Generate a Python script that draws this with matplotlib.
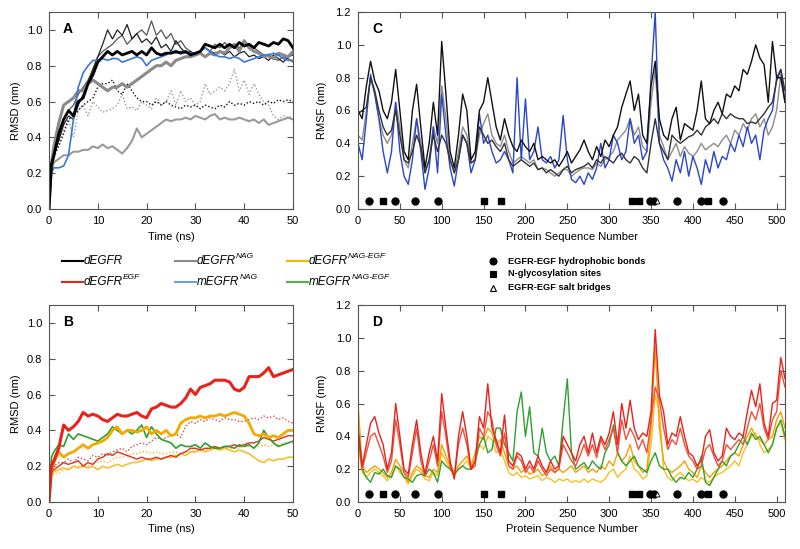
import numpy as np
import matplotlib
matplotlib.use("Agg")
import matplotlib.pyplot as plt
from matplotlib.ticker import FormatStrFormatter

plt.rcParams['font.family'] = ['Liberation Sans', 'DejaVu Sans']

# ---- RMSD time axis (ns) ----
time = [0, 0.5] + list(range(1, 51))

# panel A
a_degfr_1 = [0, 0.25,
             0.30, 0.42, 0.50, 0.55, 0.52, 0.60, 0.62, 0.70, 0.75, 0.82,
             0.85, 0.88, 0.86, 0.88, 0.86, 0.87, 0.88, 0.86, 0.88, 0.86,
             0.90, 0.87, 0.86, 0.87, 0.87, 0.88, 0.87, 0.88, 0.86, 0.87,
             0.88, 0.92, 0.91, 0.90, 0.92, 0.90, 0.92, 0.90, 0.93, 0.91,
             0.92, 0.90, 0.93, 0.92, 0.91, 0.93, 0.92, 0.95, 0.94, 0.90]
a_degfr_2 = [0, 0.22,
             0.30, 0.38, 0.47, 0.52, 0.50, 0.58, 0.64, 0.70, 0.78, 0.85,
             0.92, 1.00, 0.95, 1.00, 0.97, 1.03, 0.95, 0.98, 0.93, 0.95,
             0.92, 0.96, 0.90, 0.92, 0.88, 0.94, 0.90, 0.87, 0.88, 0.86,
             0.88, 0.90, 0.88, 0.87, 0.88, 0.86, 0.88, 0.85, 0.87, 0.88,
             0.85, 0.86, 0.84, 0.85, 0.83, 0.86, 0.84, 0.82, 0.85, 0.86]
a_degfr_3 = [0, 0.20,
             0.30, 0.35, 0.42, 0.50, 0.52, 0.55, 0.58, 0.60, 0.62, 0.68,
             0.70, 0.70, 0.72, 0.66, 0.64, 0.70, 0.66, 0.62, 0.60, 0.60,
             0.58, 0.60, 0.58, 0.60, 0.58, 0.57, 0.56, 0.58, 0.57, 0.58,
             0.56, 0.58, 0.57, 0.56, 0.58, 0.57, 0.60, 0.58, 0.59, 0.58,
             0.60, 0.59, 0.60, 0.58, 0.60, 0.59, 0.61, 0.60, 0.61, 0.60]
a_nag_1 = [0, 0.25,
           0.35, 0.48, 0.58, 0.60, 0.62, 0.66, 0.66, 0.70, 0.72, 0.70,
           0.68, 0.66, 0.68, 0.68, 0.70, 0.68, 0.70, 0.72, 0.74, 0.76,
           0.78, 0.80, 0.80, 0.82, 0.80, 0.83, 0.84, 0.85, 0.85, 0.86,
           0.87, 0.85, 0.87, 0.86, 0.88, 0.87, 0.90, 0.92, 0.88, 0.94,
           0.90, 0.88, 0.87, 0.85, 0.86, 0.84, 0.87, 0.86, 0.85, 0.88]
a_nag_2 = [0, 0.20,
           0.28, 0.40, 0.50, 0.55, 0.58, 0.64, 0.68, 0.72, 0.78, 0.85,
           0.88, 0.90, 0.92, 0.95, 0.97, 0.92, 0.95, 0.98, 1.00, 0.97,
           1.05, 0.97, 1.00, 0.95, 0.98, 0.92, 0.94, 0.90, 0.88, 0.86,
           0.88, 0.90, 0.88, 0.92, 0.90, 0.93, 0.90, 0.92, 0.90, 0.93,
           0.92, 0.90, 0.88, 0.86, 0.85, 0.84, 0.83, 0.85, 0.84, 0.82]
a_nag_3 = [0, 0.22,
           0.26, 0.28, 0.30, 0.30, 0.32, 0.32, 0.33, 0.33, 0.35, 0.34,
           0.36, 0.34, 0.35, 0.33, 0.31, 0.34, 0.38, 0.45, 0.40, 0.42,
           0.44, 0.46, 0.48, 0.50, 0.49, 0.50, 0.50, 0.51, 0.50, 0.52,
           0.51, 0.50, 0.52, 0.53, 0.50, 0.51, 0.50, 0.50, 0.51, 0.50,
           0.49, 0.50, 0.48, 0.50, 0.47, 0.48, 0.49, 0.50, 0.51, 0.50]
a_nag_dot = [0, 0.20,
             0.28, 0.36, 0.44, 0.50, 0.40, 0.55, 0.58, 0.52, 0.60, 0.57,
             0.54, 0.55, 0.56, 0.58, 0.64, 0.56, 0.57, 0.55, 0.60, 0.58,
             0.56, 0.62, 0.58, 0.60, 0.66, 0.58, 0.66, 0.60, 0.62, 0.58,
             0.60, 0.70, 0.64, 0.66, 0.68, 0.66, 0.70, 0.78, 0.66, 0.72,
             0.64, 0.70, 0.64, 0.60, 0.58, 0.52, 0.50, 0.52, 0.51, 0.52]
a_mnag = [0, 0.20,
          0.23, 0.23, 0.24, 0.30, 0.50, 0.68, 0.76, 0.80, 0.83, 0.83,
          0.84, 0.83, 0.84, 0.84, 0.82, 0.83, 0.84, 0.85, 0.84, 0.80,
          0.83, 0.84, 0.85, 0.86, 0.88, 0.87, 0.88, 0.87, 0.87, 0.86,
          0.88, 0.90, 0.88, 0.86, 0.85, 0.85, 0.84, 0.85, 0.84, 0.82,
          0.83, 0.84, 0.85, 0.86, 0.86, 0.87, 0.86, 0.84, 0.83, 0.83]

# panel B
b_egf_1 = [0, 0.20,
           0.23, 0.30, 0.43, 0.40, 0.42, 0.45, 0.50, 0.48, 0.49, 0.48,
           0.46, 0.45, 0.47, 0.49, 0.48, 0.48, 0.49, 0.50, 0.48, 0.47,
           0.52, 0.53, 0.55, 0.54, 0.53, 0.53, 0.55, 0.58, 0.63, 0.60,
           0.64, 0.65, 0.66, 0.68, 0.68, 0.68, 0.67, 0.63, 0.62, 0.64,
           0.70, 0.70, 0.70, 0.72, 0.75, 0.70, 0.71, 0.72, 0.73, 0.74]
b_egf_2 = [0, 0.17,
           0.18, 0.20, 0.22, 0.21, 0.22, 0.23, 0.20, 0.22, 0.21, 0.24,
           0.25, 0.27, 0.26, 0.28, 0.27, 0.26, 0.25, 0.24, 0.25, 0.24,
           0.24, 0.25, 0.24, 0.25, 0.26, 0.25, 0.27, 0.28, 0.30, 0.30,
           0.29, 0.30, 0.30, 0.31, 0.30, 0.31, 0.31, 0.32, 0.31, 0.32,
           0.33, 0.33, 0.34, 0.36, 0.35, 0.34, 0.35, 0.36, 0.37, 0.37]
b_egf_dot = [0, 0.17,
             0.20, 0.22, 0.22, 0.24, 0.22, 0.25, 0.24, 0.23, 0.26, 0.25,
             0.27, 0.26, 0.28, 0.29, 0.30, 0.28, 0.31, 0.32, 0.33, 0.32,
             0.34, 0.36, 0.35, 0.36, 0.37, 0.38, 0.36, 0.42, 0.45, 0.44,
             0.46, 0.45, 0.47, 0.46, 0.45, 0.47, 0.46, 0.46, 0.45, 0.45,
             0.46, 0.47, 0.46, 0.48, 0.47, 0.48, 0.46, 0.47, 0.45, 0.44]
b_nagegf_1 = [0, 0.18,
              0.22, 0.28, 0.25, 0.27, 0.28, 0.30, 0.32, 0.30, 0.32, 0.33,
              0.34, 0.36, 0.40, 0.42, 0.38, 0.40, 0.40, 0.39, 0.40, 0.42,
              0.38, 0.40, 0.38, 0.40, 0.37, 0.38, 0.44, 0.46, 0.47, 0.47,
              0.48, 0.47, 0.48, 0.48, 0.49, 0.48, 0.49, 0.50, 0.49, 0.48,
              0.44, 0.38, 0.37, 0.38, 0.36, 0.37, 0.36, 0.38, 0.40, 0.40]
b_nagegf_2 = [0, 0.15,
              0.17, 0.18, 0.19, 0.18, 0.20, 0.19, 0.20, 0.19, 0.20, 0.18,
              0.20, 0.19, 0.20, 0.21, 0.20, 0.21, 0.22, 0.22, 0.23, 0.24,
              0.23, 0.24, 0.24, 0.25, 0.25, 0.26, 0.27, 0.26, 0.28, 0.28,
              0.29, 0.28, 0.29, 0.30, 0.29, 0.30, 0.29, 0.28, 0.29, 0.28,
              0.27, 0.25, 0.23, 0.22, 0.24, 0.23, 0.24, 0.24, 0.25, 0.25]
b_nagegf_dot = [0, 0.14,
                0.16, 0.16, 0.18, 0.19, 0.20, 0.20, 0.21, 0.20, 0.22, 0.22,
                0.23, 0.22, 0.24, 0.25, 0.25, 0.26, 0.27, 0.27, 0.28, 0.28,
                0.27, 0.28, 0.27, 0.27, 0.28, 0.28, 0.27, 0.28, 0.28, 0.29,
                0.29, 0.29, 0.30, 0.30, 0.30, 0.30, 0.30, 0.30, 0.30, 0.31,
                0.31, 0.31, 0.31, 0.32, 0.31, 0.32, 0.32, 0.33, 0.33, 0.33]
b_mnagegf = [0, 0.25,
             0.28, 0.32, 0.31, 0.38, 0.35, 0.38, 0.37, 0.36, 0.35, 0.34,
             0.36, 0.38, 0.42, 0.40, 0.38, 0.40, 0.38, 0.40, 0.43, 0.36,
             0.42, 0.38, 0.35, 0.34, 0.33, 0.30, 0.32, 0.31, 0.31, 0.32,
             0.30, 0.33, 0.31, 0.30, 0.30, 0.31, 0.31, 0.30, 0.32, 0.31,
             0.32, 0.30, 0.33, 0.40, 0.36, 0.33, 0.31, 0.32, 0.33, 0.34]

# ---- RMSF, residues 0..510 every 5 ----
residue = list(range(0, 511, 5))

c_degfr_1 = [0.60, 0.55, 0.75, 0.90, 0.78, 0.72, 0.60, 0.55, 0.65, 0.85,
             0.60, 0.35, 0.30, 0.60, 0.76, 0.50, 0.25, 0.40, 0.65, 0.45,
             1.02, 0.70, 0.35, 0.25, 0.45, 0.70, 0.60, 0.30, 0.35, 0.60,
             0.65, 0.80, 0.65, 0.50, 0.42, 0.55, 0.45, 0.38, 0.35, 0.42,
             0.38, 0.35, 0.40, 0.30, 0.32, 0.30, 0.28, 0.30, 0.26, 0.30,
             0.35, 0.28, 0.32, 0.36, 0.42, 0.35, 0.30, 0.38, 0.32, 0.42,
             0.38, 0.45, 0.50, 0.62, 0.70, 0.78, 0.60, 0.70, 0.45, 0.40,
             0.75, 0.90, 0.55, 0.45, 0.42, 0.55, 0.62, 0.42, 0.52, 0.50,
             0.48, 0.60, 0.78, 0.55, 0.52, 0.60, 0.65, 0.58, 0.70, 0.68,
             0.75, 0.72, 0.85, 0.82, 0.90, 1.00, 0.92, 0.88, 0.65, 1.02,
             0.80, 0.80, 0.65]
c_degfr_2 = [0.58, 0.60, 0.62, 0.80, 0.72, 0.60, 0.50, 0.45, 0.48, 0.60,
             0.45, 0.30, 0.28, 0.35, 0.45, 0.38, 0.22, 0.30, 0.45, 0.35,
             0.45, 0.40, 0.30, 0.22, 0.30, 0.45, 0.40, 0.28, 0.30, 0.50,
             0.45, 0.40, 0.42, 0.38, 0.35, 0.40, 0.30, 0.26, 0.28, 0.30,
             0.28, 0.26, 0.28, 0.24, 0.25, 0.22, 0.24, 0.22, 0.20, 0.24,
             0.26, 0.22, 0.24, 0.25, 0.26, 0.28, 0.25, 0.30, 0.28, 0.32,
             0.30, 0.28, 0.32, 0.34, 0.30, 0.28, 0.32, 0.30, 0.25, 0.22,
             0.40, 0.55, 0.40, 0.35, 0.30, 0.45, 0.42, 0.40, 0.42, 0.44,
             0.45, 0.48, 0.45, 0.50, 0.52, 0.55, 0.52, 0.58, 0.55, 0.58,
             0.56, 0.55, 0.55, 0.52, 0.53, 0.52, 0.55, 0.58, 0.62, 0.65,
             0.78, 0.85, 0.72]
c_nag = [0.45, 0.42, 0.60, 0.80, 0.70, 0.55, 0.45, 0.40, 0.45, 0.65,
         0.50, 0.30, 0.25, 0.40, 0.55, 0.40, 0.22, 0.30, 0.50, 0.40,
         0.75, 0.55, 0.30, 0.22, 0.35, 0.50, 0.45, 0.28, 0.30, 0.45,
         0.52, 0.58, 0.45, 0.40, 0.38, 0.45, 0.35, 0.28, 0.30, 0.32,
         0.30, 0.28, 0.30, 0.24, 0.25, 0.24, 0.22, 0.20, 0.22, 0.24,
         0.24, 0.20, 0.22, 0.24, 0.25, 0.25, 0.24, 0.28, 0.26, 0.30,
         0.32, 0.35, 0.42, 0.45, 0.48, 0.55, 0.45, 0.50, 0.38, 0.35,
         0.65, 0.85, 0.45, 0.38, 0.30, 0.35, 0.40, 0.32, 0.38, 0.34,
         0.32, 0.35, 0.40, 0.36, 0.38, 0.40, 0.38, 0.42, 0.45, 0.40,
         0.48, 0.45, 0.52, 0.48, 0.55, 0.58, 0.50, 0.55, 0.45, 0.50,
         0.60, 0.82, 0.65]
c_mnag = [0.40, 0.30, 0.55, 0.82, 0.70, 0.55, 0.35, 0.22, 0.35, 0.65,
          0.35, 0.20, 0.15, 0.30, 0.55, 0.35, 0.12, 0.25, 0.50, 0.22,
          0.70, 0.45, 0.25, 0.14, 0.30, 0.45, 0.40, 0.22, 0.30, 0.58,
          0.40, 0.45, 0.35, 0.28, 0.30, 0.35, 0.30, 0.22, 0.80, 0.30,
          0.67, 0.30, 0.35, 0.50, 0.30, 0.28, 0.32, 0.25, 0.30, 0.57,
          0.30, 0.18, 0.16, 0.20, 0.15, 0.22, 0.18, 0.25, 0.40, 0.25,
          0.30, 0.45, 0.40, 0.30, 0.35, 0.55, 0.40, 0.45, 0.30, 0.35,
          0.80, 1.20, 0.40, 0.30, 0.25, 0.17, 0.30, 0.22, 0.35, 0.20,
          0.32, 0.25, 0.15, 0.30, 0.22, 0.35, 0.25, 0.32, 0.30, 0.40,
          0.35, 0.45, 0.38, 0.50, 0.40, 0.45, 0.30, 0.48, 0.55, 0.60,
          0.80, 0.85, 0.65]

d_egf_1 = [0.45, 0.22, 0.35, 0.48, 0.52, 0.42, 0.35, 0.20, 0.30, 0.60,
           0.40, 0.20, 0.17, 0.35, 0.50, 0.30, 0.17, 0.30, 0.40, 0.25,
           0.66, 0.45, 0.25, 0.14, 0.40, 0.55, 0.40, 0.20, 0.25, 0.52,
           0.45, 0.72, 0.45, 0.38, 0.30, 0.53, 0.25, 0.22, 0.30, 0.28,
           0.20, 0.25, 0.20, 0.28, 0.22, 0.18, 0.25, 0.20, 0.22, 0.40,
           0.35, 0.30, 0.25, 0.35, 0.40, 0.30, 0.42, 0.30, 0.40, 0.35,
           0.42, 0.55, 0.35, 0.60, 0.45, 0.62, 0.45, 0.38, 0.42, 0.40,
           0.55, 1.05, 0.65, 0.55, 0.35, 0.42, 0.40, 0.52, 0.40, 0.30,
           0.28, 0.22, 0.25, 0.40, 0.44, 0.30, 0.25, 0.28, 0.45, 0.40,
           0.38, 0.42, 0.40, 0.55, 0.68, 0.58, 0.72, 0.48, 0.40, 0.60,
           0.62, 0.88, 0.75]
d_egf_2 = [0.40, 0.20, 0.30, 0.40, 0.42, 0.35, 0.28, 0.18, 0.25, 0.50,
           0.35, 0.18, 0.15, 0.30, 0.45, 0.25, 0.16, 0.25, 0.35, 0.22,
           0.55, 0.40, 0.22, 0.15, 0.35, 0.45, 0.35, 0.20, 0.22, 0.45,
           0.40, 0.55, 0.50, 0.35, 0.28, 0.42, 0.22, 0.20, 0.28, 0.25,
           0.18, 0.22, 0.18, 0.25, 0.20, 0.16, 0.20, 0.18, 0.20, 0.35,
           0.30, 0.25, 0.22, 0.28, 0.35, 0.28, 0.35, 0.27, 0.38, 0.32,
           0.38, 0.45, 0.30, 0.50, 0.38, 0.45, 0.40, 0.32, 0.38, 0.30,
           0.50, 0.70, 0.62, 0.45, 0.32, 0.38, 0.35, 0.45, 0.35, 0.28,
           0.25, 0.20, 0.22, 0.32, 0.35, 0.28, 0.22, 0.25, 0.35, 0.32,
           0.35, 0.38, 0.35, 0.45, 0.55, 0.50, 0.60, 0.45, 0.38, 0.50,
           0.55, 0.80, 0.70]
d_nagegf_1 = [0.60, 0.22, 0.18, 0.20, 0.22, 0.20, 0.18, 0.15, 0.18, 0.26,
              0.22, 0.18, 0.12, 0.18, 0.22, 0.20, 0.16, 0.15, 0.20, 0.18,
              0.35, 0.28, 0.22, 0.18, 0.22, 0.25, 0.28, 0.22, 0.30, 0.40,
              0.38, 0.45, 0.42, 0.35, 0.38, 0.30, 0.22, 0.20, 0.22, 0.18,
              0.20, 0.17, 0.18, 0.20, 0.16, 0.18, 0.22, 0.18, 0.20, 0.18,
              0.20, 0.22, 0.18, 0.20, 0.22, 0.18, 0.20, 0.18, 0.22, 0.20,
              0.25, 0.22, 0.30, 0.25, 0.28, 0.35, 0.25, 0.22, 0.18, 0.20,
              0.45, 0.95, 0.45, 0.25, 0.20, 0.18, 0.20, 0.22, 0.25, 0.20,
              0.18, 0.15, 0.22, 0.18, 0.15, 0.18, 0.20, 0.22, 0.25, 0.28,
              0.30, 0.28, 0.35, 0.40, 0.45, 0.40, 0.38, 0.35, 0.38, 0.40,
              0.50, 0.55, 0.45]
d_nagegf_2 = [0.35, 0.18, 0.15, 0.18, 0.20, 0.18, 0.16, 0.13, 0.16, 0.22,
              0.18, 0.15, 0.11, 0.16, 0.20, 0.18, 0.14, 0.13, 0.18, 0.16,
              0.30, 0.25, 0.20, 0.16, 0.20, 0.22, 0.25, 0.20, 0.26, 0.35,
              0.32, 0.40, 0.38, 0.30, 0.32, 0.25, 0.18, 0.16, 0.18, 0.15,
              0.16, 0.14, 0.15, 0.16, 0.13, 0.15, 0.14, 0.12, 0.14, 0.13,
              0.14, 0.12, 0.13, 0.12, 0.14, 0.12, 0.14, 0.13, 0.12, 0.14,
              0.18, 0.20, 0.15, 0.18, 0.20, 0.28, 0.20, 0.18, 0.14, 0.16,
              0.35, 0.65, 0.55, 0.20, 0.15, 0.13, 0.16, 0.18, 0.15, 0.13,
              0.14, 0.12, 0.15, 0.13, 0.12, 0.15, 0.17, 0.18, 0.20, 0.22,
              0.25, 0.22, 0.30, 0.35, 0.40, 0.42, 0.35, 0.30, 0.32, 0.35,
              0.45, 0.48, 0.38]
d_mnagegf = [0.45, 0.20, 0.15, 0.12, 0.18, 0.17, 0.20, 0.16, 0.15, 0.22,
             0.20, 0.15, 0.14, 0.12, 0.16, 0.17, 0.16, 0.20, 0.18, 0.12,
             0.25, 0.22, 0.20, 0.17, 0.20, 0.22, 0.20, 0.20, 0.25, 0.35,
             0.40, 0.30, 0.32, 0.45, 0.45, 0.35, 0.30, 0.25, 0.55, 0.67,
             0.40, 0.58, 0.30, 0.28, 0.45, 0.30, 0.25, 0.28, 0.22, 0.50,
             0.75, 0.30, 0.20, 0.22, 0.24, 0.20, 0.25, 0.22, 0.20, 0.30,
             0.35, 0.47, 0.30, 0.25, 0.22, 0.25, 0.28, 0.22, 0.20, 0.18,
             0.25, 0.30, 0.22, 0.20, 0.20, 0.15, 0.12, 0.15, 0.14, 0.18,
             0.15, 0.20, 0.28, 0.12, 0.10, 0.15, 0.20, 0.25, 0.22, 0.28,
             0.30, 0.35, 0.40, 0.35, 0.42, 0.38, 0.40, 0.35, 0.30, 0.35,
             0.45, 0.50, 0.40]

# site annotations
hydrophobic_sites = [13, 44, 68, 96, 349, 354, 381, 410, 436]
glyco_sites = [30, 150, 171, 327, 336, 418]
salt_bridge_sites = [357]

W, H = 800, 549
fig = plt.figure(figsize=(W / 100, H / 100), dpi=100)


def box(l, t, r, b):
    return [l / W, 1 - b / H, (r - l) / W, (b - t) / H]


ax_a = fig.add_axes(box(49, 12, 293, 209))
ax_c = fig.add_axes(box(358, 12, 785, 209))
ax_b = fig.add_axes(box(49, 305, 293, 502))
ax_d = fig.add_axes(box(358, 305, 785, 502))

# A
ax_a.plot(time, a_nag_3, color='#9a9a9a', lw=1.5)
ax_a.plot(time, a_nag_dot, color='#9a9a9a', lw=1, ls=(0, (1, 1.5)))
ax_a.plot(time, a_degfr_3, color='#111111', lw=1, ls=(0, (1, 1.5)))
ax_a.plot(time, a_nag_2, color='#555555', lw=0.9)
ax_a.plot(time, a_degfr_2, color='#222222', lw=0.9)
ax_a.plot(time, a_nag_1, color='#8a8a8a', lw=2.2)
ax_a.plot(time, a_mnag, color='#3a78d8', lw=1.2)
ax_a.plot(time, a_degfr_1, color='#000000', lw=2)

# B
ax_b.plot(time, b_nagegf_dot, color='#f2b830', lw=1, ls=(0, (1, 1.5)))
ax_b.plot(time, b_egf_dot, color='#d84848', lw=1, ls=(0, (1, 1.5)))
ax_b.plot(time, b_nagegf_2, color='#f2c030', lw=1.2)
ax_b.plot(time, b_egf_2, color='#e0301e', lw=1)
ax_b.plot(time, b_mnagegf, color='#2e9e2e', lw=1.2)
ax_b.plot(time, b_nagegf_1, color='#f5a800', lw=2)
ax_b.plot(time, b_egf_1, color='#e8231b', lw=2.2)

# C
ax_c.plot(residue, c_nag, color='#8c8c8c', lw=1)
ax_c.plot(residue, c_mnag, color='#2a45c8', lw=1)
ax_c.plot(residue, c_degfr_2, color='#333333', lw=1)
ax_c.plot(residue, c_degfr_1, color='#111111', lw=1)

# D
ax_d.plot(residue, d_nagegf_2, color='#f5c020', lw=1)
ax_d.plot(residue, d_nagegf_1, color='#f5a000', lw=1)
ax_d.plot(residue, d_mnagegf, color='#2ea02e', lw=1)
ax_d.plot(residue, d_egf_2, color='#f0503a', lw=1)
ax_d.plot(residue, d_egf_1, color='#e8221a', lw=1)

for ax in (ax_c, ax_d):
    ax.plot(hydrophobic_sites, [0.05] * len(hydrophobic_sites), 'o', color='black', ms=5)
    ax.plot(glyco_sites, [0.05] * len(glyco_sites), 's', color='black', ms=5)
    ax.plot(salt_bridge_sites, [0.05] * len(salt_bridge_sites), '^', mfc='white',
            mec='black', ms=3.5, mew=0.6)

for ax, letter in ((ax_a, 'A'), (ax_b, 'B')):
    ax.set_xlim(0, 50)
    ax.set_ylim(0, 1.1)
    ax.set_xticks(range(0, 51, 10))
    ax.set_yticks(np.arange(0, 1.01, 0.2))
    ax.set_ylabel('RMSD (nm)', fontsize=8, labelpad=4)
    ax.text(0.058, 0.95, letter, transform=ax.transAxes, fontsize=10,
            fontweight='bold', va='top')

for ax, letter in ((ax_c, 'C'), (ax_d, 'D')):
    ax.set_xlim(0, 510)
    ax.set_ylim(0, 1.2)
    ax.set_xticks(range(0, 501, 50))
    ax.set_yticks(np.arange(0, 1.21, 0.2))
    ax.set_ylabel('RMSF (nm)', fontsize=8, labelpad=6)
    ax.text(0.033, 0.95, letter, transform=ax.transAxes, fontsize=10,
            fontweight='bold', va='top')

ax_a.set_xlabel('Time (ns)', fontsize=8, labelpad=4)
ax_b.set_xlabel('Time (ns)', fontsize=8, labelpad=4)
ax_c.set_xlabel('Protein Sequence Number', fontsize=8, labelpad=4)
ax_d.set_xlabel('Protein Sequence Number', fontsize=8, labelpad=4)

for ax in (ax_a, ax_b, ax_c, ax_d):
    ax.yaxis.set_major_formatter(FormatStrFormatter('%.1f'))
    ax.tick_params(direction='in', top=True, right=True, length=4, width=0.8,
                   color='#555555', labelsize=8, pad=5)
    for s in ax.spines.values():
        s.set_color('#555555')
        s.set_linewidth(0.8)

# legend band in pixel coordinates
leg = fig.add_axes([0, 0, 1, 1])
leg.set_xlim(0, W)
leg.set_ylim(H, 0)
leg.axis('off')

legend_items = [
    (62, 261, '#000000', 'dEGFR', None),
    (175, 261, '#8a8a8a', 'dEGFR', 'NAG'),
    (287, 261, '#f5b800', 'dEGFR', 'NAG-EGF'),
    (62, 282, '#e8231b', 'dEGFR', 'EGF'),
    (175, 282, '#6a9fe0', 'mEGFR', 'NAG'),
    (287, 282, '#55b04a', 'mEGFR', 'NAG-EGF'),
]
for x, y, col, base, sup in legend_items:
    leg.plot([x, x + 21], [y, y], color=col, lw=1.5)
    t = leg.text(x + 22, y, base, style='italic', fontsize=8.5, va='center', ha='left')
    if sup:
        leg.annotate(sup, xy=(1.0, 0.55), xycoords=t, style='italic', fontsize=6,
                     va='bottom', ha='left')

marker_items = [(261, 'o', 'black', 'EGFR-EGF hydrophobic bonds'),
                (274, 's', 'black', 'N-glycosylation sites'),
                (288, '^', 'white', 'EGFR-EGF salt bridges')]
for y, m, fc, label in marker_items:
    leg.plot([493], [y], m, mfc=fc, mec='black', ms=5, mew=0.8)
    leg.text(508, y, label, fontsize=6.7, fontweight='bold', va='center', ha='left')

fig.savefig('out.png', dpi=100)
